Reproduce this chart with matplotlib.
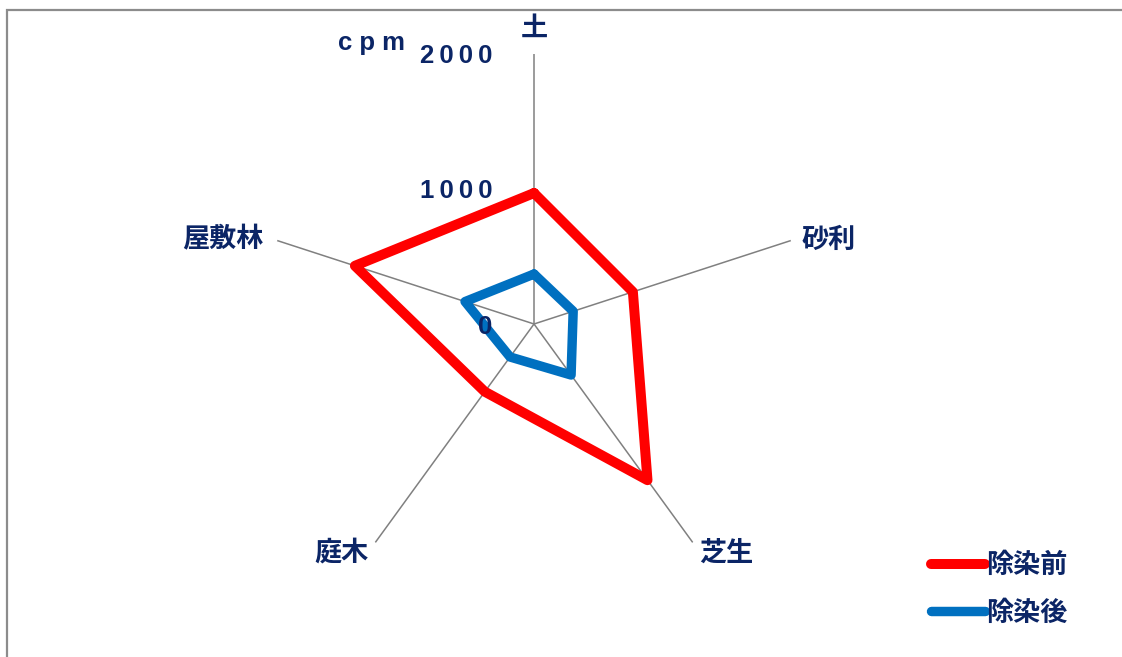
import matplotlib.pyplot as plt
import numpy as np
from matplotlib.patches import Rectangle

# Data (cpm)
categories = ["土", "砂利", "芝生", "庭木", "屋敷林"]
before = [970, 770, 1430, 620, 1395]   # 除染前
after = [370, 305, 467, 302, 537]      # 除染後
series_labels = ["除染前", "除染後"]
r_ticks = [0, 1000, 2000]
r_tick_labels = ["0", "1\u20090\u20090\u20090", "2\u20090\u20090\u20090"]
unit_label = "c p m"

navy = "#0B2566"
cjk = ["Noto Sans CJK JP", "DejaVu Sans"]
latin = ["Liberation Sans", "DejaVu Sans"]

fig = plt.figure(figsize=(11.22, 6.57), dpi=100)
ax = fig.add_axes([0.2353, 0.0959, 0.4813, 0.8219], projection="polar")
ax.set_theta_zero_location("N")
ax.set_theta_direction(-1)

theta = np.linspace(0, 2 * np.pi, len(categories), endpoint=False)
theta_closed = np.append(theta, theta[0])

ax.plot(theta_closed, np.append(before, before[0]), color="#FF0000", lw=7.2,
        solid_joinstyle="round", solid_capstyle="round", label=series_labels[0], zorder=3)
ax.plot(theta_closed, np.append(after, after[0]), color="#0070C0", lw=6.8,
        solid_joinstyle="round", solid_capstyle="round", label=series_labels[1], zorder=3)

# spokes only, no rings
ax.set_ylim(0, 2000)
ax.set_xticks(theta)
ax.set_xticklabels([])
ax.set_yticks([])
ax.xaxis.grid(True, color="#808080", lw=1.1)
ax.yaxis.grid(False)
ax.spines["polar"].set_visible(False)

# category labels near spoke ends
offsets = [(0, 26), (38, 1), (34, -10), (-34, -10), (-54, 1)]
for t, name, off in zip(theta, categories, offsets):
    ax.annotate(name, xy=(t, 2000), xytext=off, textcoords="offset pixels",
                ha="center", va="center", fontsize=19.5, fontweight="bold",
                family=cjk, color=navy, zorder=5)

# radial tick labels on the left of the top spoke
for r, lab in zip(r_ticks, r_tick_labels):
    ax.annotate(lab, xy=(0, r), xytext=(-42, -2 if r else -3), textcoords="offset pixels",
                ha="right", va="center", fontsize=18.5, fontweight="bold",
                family=latin, color=navy, zorder=5)
ax.annotate(unit_label, xy=(0, 2000), xytext=(-129, 4), textcoords="offset pixels",
            ha="right", va="baseline", fontsize=18.5, fontweight="bold",
            family=latin, color=navy, zorder=5)

leg = fig.legend(loc="upper left", bbox_to_anchor=(931 / 1122, 1 - 551 / 657),
                 frameon=False, borderpad=0, borderaxespad=0, handlelength=2.0,
                 handletextpad=0.05, labelspacing=0.72,
                 prop={"family": cjk, "weight": "bold", "size": 19.5})
for txt in leg.get_texts():
    txt.set_color(navy)

# chart-area border (top and left edges visible)
fig.patches.append(Rectangle((7 / 1122, -0.1), 1.2, 1.1 - 10 / 657,
                             transform=fig.transFigure, fill=False,
                             edgecolor="#8C8C8C", lw=1.6))

fig.savefig("out.png", dpi=100)
